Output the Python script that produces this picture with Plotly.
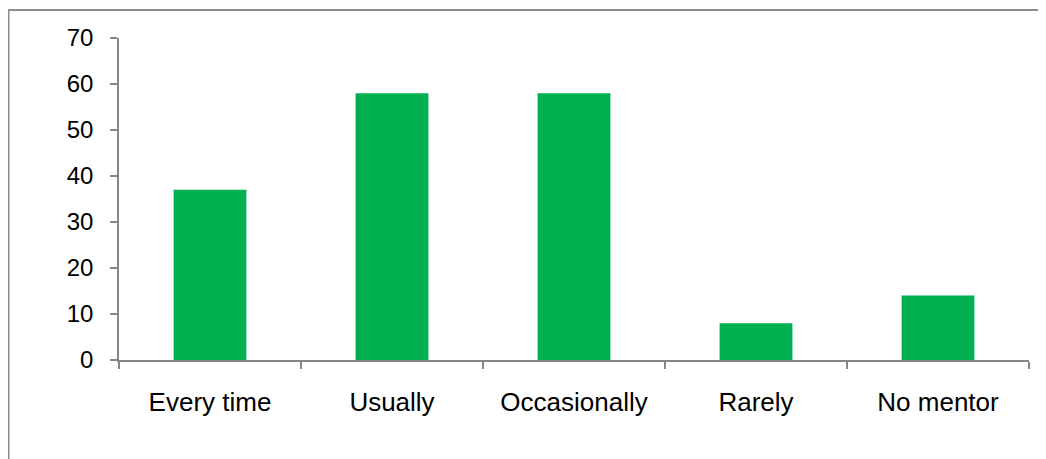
import plotly.graph_objects as go

categories = ["Every time", "Usually", "Occasionally", "Rarely", "No mentor"]
values = [37, 58, 58, 8, 14]
y_ticks = [0, 10, 20, 30, 40, 50, 60, 70]

# the page body adds an 8px offset; size the figure to fit the window
W, H = 1038, 451
ml, mr, mt, mb = 111, 17, 30, 99
pw, ph = W - ml - mr, H - mt - mb

fig = go.Figure(go.Bar(
    x=categories, y=values,
    marker=dict(color="#00B050", line=dict(width=0)),
    width=0.4,
))

fig.update_layout(
    width=W, height=H,
    margin=dict(l=ml, r=mr, t=mt, b=mb),
    paper_bgcolor="white", plot_bgcolor="white",
    showlegend=False,
    font=dict(family="Liberation Sans, Arial, sans-serif", color="black"),
    shapes=[dict(
        type="rect", xref="paper", yref="paper",
        x0=(0.5 - ml) / pw, x1=(W + 20 - ml) / pw,
        y0=-(mb + 20) / ph, y1=1 + (mt - 2) / ph,
        line=dict(color="#8c8c8c", width=2), fillcolor="rgba(0,0,0,0)",
        layer="below",
    )],
)

fig.update_xaxes(
    showline=True, linecolor="#868686", linewidth=1.5,
    ticks="outside", tickson="boundaries", ticklen=7, tickcolor="#868686", tickwidth=1.5,
    tickfont=dict(size=26, family="Liberation Sans, Arial, sans-serif"),
    ticklabelstandoff=18,
    showgrid=False, zeroline=False,
)
fig.update_yaxes(
    range=[0, 70], tickvals=y_ticks,
    showline=True, linecolor="#868686", linewidth=1.5,
    ticks="outside", ticklen=7, tickcolor="#868686", tickwidth=1.5,
    tickfont=dict(size=24, family="Liberation Sans, Arial, sans-serif"),
    ticklabelstandoff=12,
    showgrid=False, zeroline=False,
)

fig.write_html("out.html")
